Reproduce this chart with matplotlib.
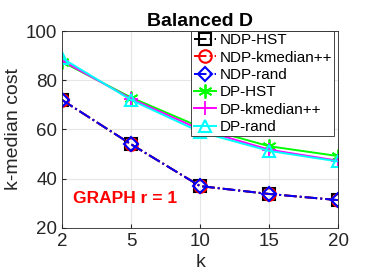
import numpy as np
import matplotlib
matplotlib.use('Agg')
import matplotlib.pyplot as plt

plt.rcParams['font.family'] = ['Liberation Sans', 'DejaVu Sans']

# data
k_labels = ['2', '5', '10', '15', '20']
ndp_hst = [72, 54, 37, 33.8, 31.3]
ndp_kmed = [72, 54, 37, 33.8, 31.3]
ndp_rand = [72, 54, 37, 33.8, 31.3]
dp_hst = [87.5, 73, 61, 53.2, 49.2]
dp_kmed = [88, 72.5, 60, 51.8, 47.3]
dp_rand = [89, 72, 59, 51.3, 47]

x = np.arange(len(k_labels))

fig = plt.figure(figsize=(3.74, 2.8), dpi=100)
ax = fig.add_axes([0.166, 0.186, 0.738, 0.703])

ax.plot(x, ndp_hst, '-.', color='black', marker='s', ms=8, mfc='none', mew=1.5, lw=1.4, label='NDP-HST')
ax.plot(x, ndp_kmed, '-.', color='red', marker='o', ms=9, mfc='none', mew=1.5, lw=1.4, label='NDP-kmedian++')
ax.plot(x, ndp_rand, '-.', color='blue', marker='D', ms=7.5, mfc='none', mew=1.5, lw=1.4, label='NDP-rand')
ax.plot(x, dp_hst, '-', color='#00ff00', marker=(6, 2, 0), ms=10, mew=1.3, lw=1.4, label='DP-HST')
ax.plot(x, dp_kmed, '-', color='magenta', marker='+', ms=10, mew=1.3, lw=1.4, label='DP-kmedian++')
ax.plot(x, dp_rand, '-', color='cyan', marker='^', ms=9, mfc='none', mew=1.5, lw=1.4, label='DP-rand')

ax.set_xlim(0, len(k_labels) - 1)
ax.set_ylim(20, 100)
ax.set_xticks(x)
ax.set_xticklabels(k_labels)
ax.set_yticks([20, 40, 60, 80, 100])
ax.tick_params(labelsize=13.5, direction='in', length=3, colors='#262626')
ax.grid(True, color='#e6e6e6', lw=0.8)
for s in ax.spines.values():
    s.set_color('#262626')
    s.set_linewidth(0.6)

ax.set_xlabel('k', fontsize=14, color='#262626', labelpad=3)
ax.set_ylabel('k-median cost', fontsize=14, color='#262626', labelpad=3)
ax.set_title('Balanced D', fontsize=14, fontweight='bold', pad=4)

ax.text(0.04, 0.15, 'GRAPH r = 1', transform=ax.transAxes, color='red',
        fontsize=12.5, fontweight='bold', va='center')

leg = ax.legend(loc='upper right', fontsize=11, handlelength=1.5, handletextpad=0.2,
                borderaxespad=0.25, borderpad=0.15, labelspacing=0.22, fancybox=False,
                framealpha=1, edgecolor='#262626', bbox_to_anchor=(1.0, 1.02))
leg.get_frame().set_linewidth(0.6)
leg.set_zorder(5)

fig.savefig('out.png', dpi=100)
